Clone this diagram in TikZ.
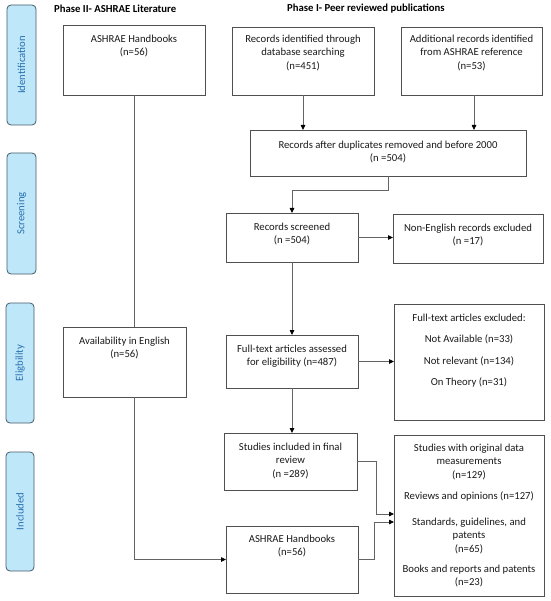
\documentclass[tikz,border=0pt]{standalone}
\usepackage{fontspec}
\setmainfont{Carlito}
\usetikzlibrary{calc,arrows.meta}
\definecolor{pillfill}{RGB}{190,232,250}
\definecolor{pilldraw}{RGB}{70,90,105}
\definecolor{pilltext}{RGB}{40,110,175}
\definecolor{boxdraw}{RGB}{80,80,80}
\definecolor{linecol}{RGB}{100,100,100}
\tikzset{
  box/.style={draw=boxdraw, line width=0.8pt, rectangle, inner sep=0pt, outer sep=0pt, anchor=north west},
  pill/.style={draw=pilldraw, fill=pillfill, line width=0.8pt, rounded corners=4pt, inner sep=0pt, outer sep=0pt, anchor=north west},
  pilltxt/.style={text=pilltext, rotate=90, font=\fontsize{10.7}{13}\selectfont, inner sep=0pt},
  txt/.style={align=center, inner sep=0pt, anchor=north, font=\fontsize{10.7}{13.5}\selectfont, text=black!90},
  head/.style={inner sep=0pt, anchor=west, font=\fontsize{10.7}{13}\selectfont\bfseries},
  conn/.style={draw=linecol, line width=0.8pt},
  arr/.style={conn, -{Triangle[length=5pt,width=4.5pt,color=black]}}
}
\begin{document}
\begin{tikzpicture}[x=1pt,y=-1pt]
\useasboundingbox (0,0) rectangle (550,601);
% phase pills
\node[pill, minimum width=29pt, minimum height=120pt] (pid) at (7,5) {};
\node[pilltxt] at (pid.center) {Identification};
\node[pill, minimum width=29pt, minimum height=121pt] (psc) at (7,153) {};
\node[pilltxt] at (psc.center) {Screening};
\node[pill, minimum width=28pt, minimum height=120pt] (pel) at (6,303) {};
\node[pilltxt] at (pel.center) {Eligbility};
\node[pill, minimum width=28pt, minimum height=119pt] (pin) at (6,452) {};
\node[pilltxt] at (pin.center) {Included};
% headings
\node[head] (h2) at (54,9) {Phase II- ASHRAE Literature};
\node[head] (h1) at (287,9) {Phase I- Peer reviewed publications};
% boxes
\node[box, minimum width=142pt, minimum height=70pt] (ash1) at (63,25) {};
\node[txt] at ([yshift=-9.5pt]ash1.north) {ASHRAE Handbooks\\(n=56)};
\node[box, minimum width=142pt, minimum height=68pt] (rec) at (232,27) {};
\node[txt] at ([yshift=-7.5pt]rec.north) {Records identified through\\database searching\\(n=451)};
\node[box, minimum width=141pt, minimum height=68pt] (add) at (401,27) {};
\node[txt] at ([yshift=-7.5pt]add.north) {Additional records identified\\from ASHRAE reference\\(n=53)};
\node[box, minimum width=276pt, minimum height=46pt] (mer) at (250,130) {};
\node[txt] at ([yshift=-10.5pt]mer.north) {Records after duplicates removed and before 2000\\(n =504)};
\node[box, minimum width=132pt, minimum height=49pt] (scr) at (226,213) {};
\node[txt] at ([yshift=-9.5pt]scr.north) {Records screened\\(n =504)};
\node[box, minimum width=150pt, minimum height=49pt] (non) at (393,214) {};
\node[txt] at ([yshift=-9.5pt]non.north) {Non-English records excluded\\(n =17)};
\node[box, minimum width=123pt, minimum height=70pt] (ava) at (63,327) {};
\node[txt] at ([yshift=-9.5pt]ava.north) {Availability in English\\(n=56)};
\node[box, minimum width=132pt, minimum height=53pt] (ful) at (226,335) {};
\node[txt] at ([yshift=-9.5pt]ful.north) {Full-text articles assessed\\for eligibility (n=487)};
\node[box, minimum width=150pt, minimum height=116pt] (exc) at (394,304) {};
\node[txt, font=\fontsize{10.7}{21.5}\selectfont] at ([yshift=-9.5pt]exc.north) {Full-text articles excluded:\\Not Available (n=33)\\Not relevant (n=134)\\On Theory (n=31)};
\node[box, minimum width=133pt, minimum height=57pt] (stu) at (224,433) {};
\node[txt] at ([yshift=-9.5pt]stu.north) {Studies included in final\\review\\(n =289)};
\node[box, minimum width=132pt, minimum height=67pt] (ash2) at (226,526) {};
\node[txt] at ([yshift=-8.5pt]ash2.north) {ASHRAE Handbooks\\(n=56)};
\node[box, minimum width=150pt, minimum height=161pt] (fin) at (394,435) {};
\node[txt] at ([yshift=-8.5pt]fin.north) {Studies with original data\\measurements\\(n=129)\\[7.5pt]Reviews and opinions (n=127)\\[12.5pt]Standards, guidelines, and\\patents\\(n=65)\\[6.5pt]Books and reports and patents\\(n=23)};
% connectors
\draw[arr] (rec.south) -- (rec.south |- mer.north);
\draw[arr] ([xshift=2.5pt]add.south) -- ([xshift=2.5pt]add.south |- mer.north);
\draw[arr] (mer.south) -- ++(0,14) -| (scr.north);
\draw[arr] (scr.east) -- (scr.east -| non.west);
\draw[arr] (scr.south) -- (ful.north);
\draw[arr] (ful.east) -- (ful.east -| exc.west);
\draw[arr] (ful.south) -- (ful.south |- stu.north);
\draw[conn] (ash1.south) -- (ash1.south |- ava.north);
\draw[arr] (ash1.south |- ava.south) |- (ash2.west);
\draw[arr] (stu.east) -| ($(fin.west)+(-18,-1.5)$) -- ($(fin.west)+(0,-1.5)$);
\draw[arr] (ash2.east) -| ($(fin.west)+(-20,6.5)$) -- ($(fin.west)+(0,6.5)$);
\end{tikzpicture}
\end{document}
